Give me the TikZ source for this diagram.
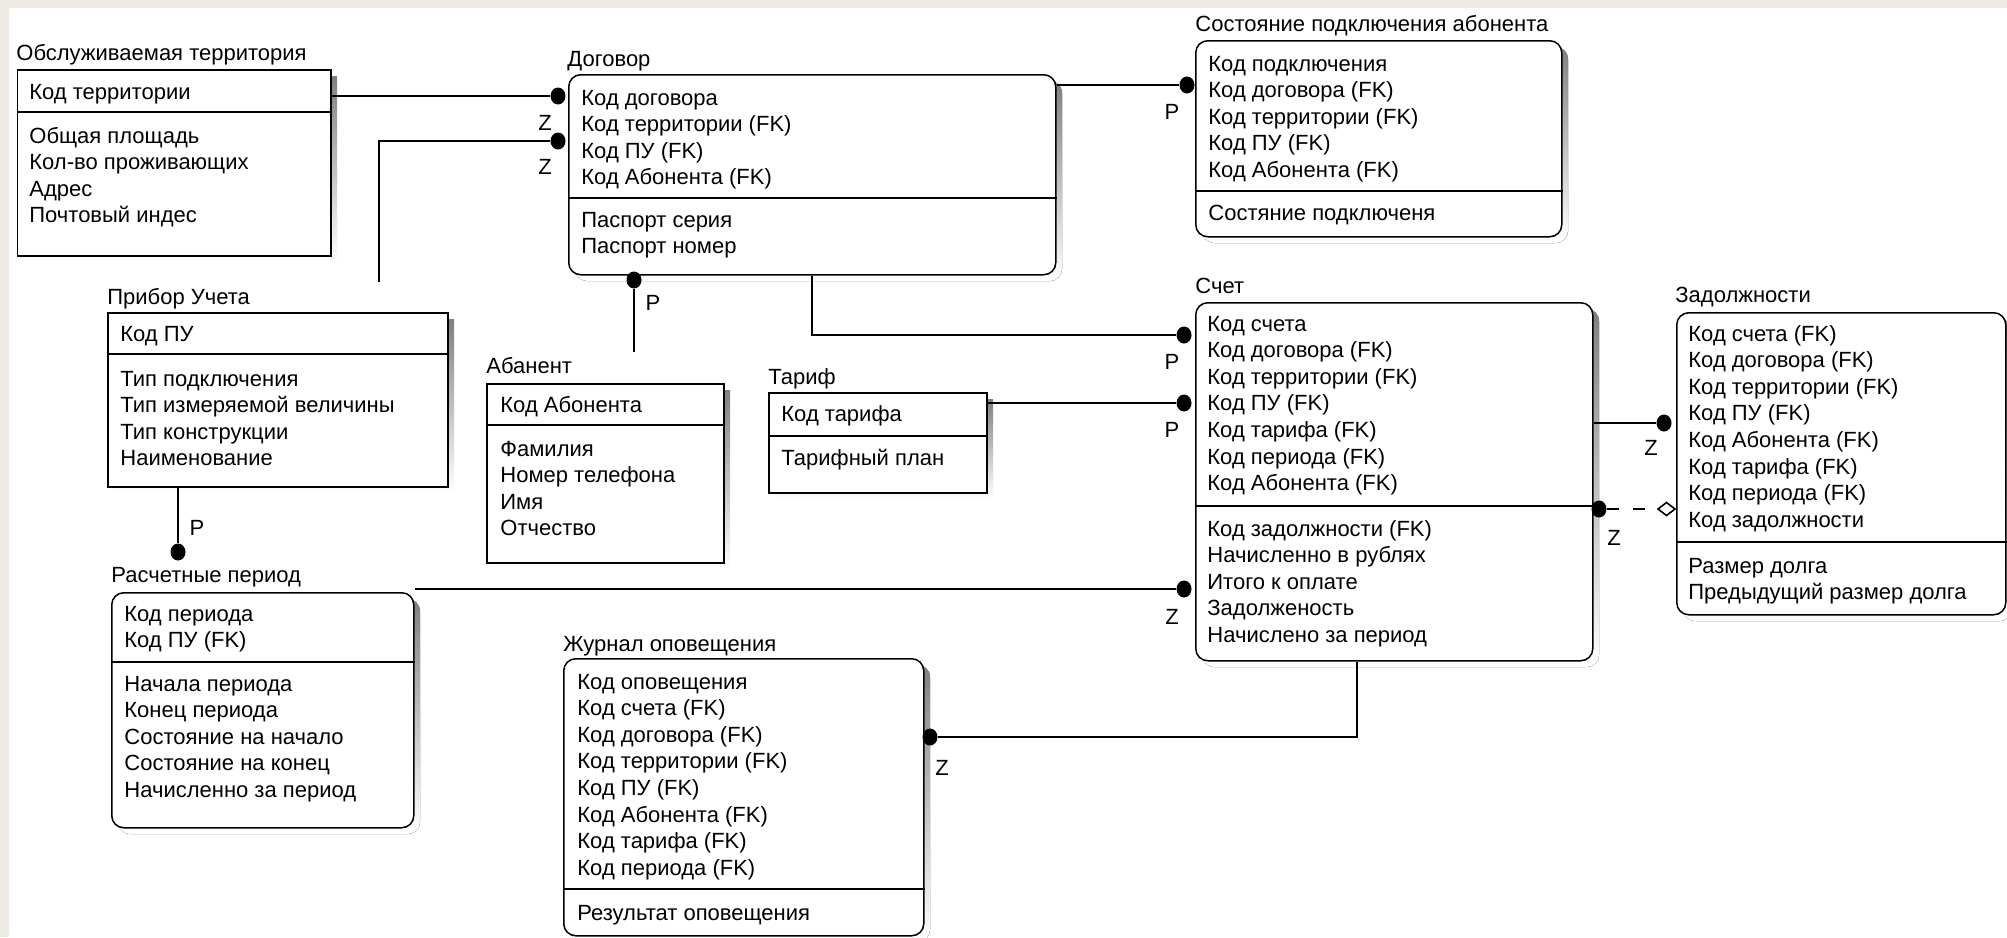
\documentclass[tikz,border=0pt]{standalone}
\usepackage{fontspec}
\setmainfont{Liberation Sans}
\usetikzlibrary{shapes.geometric}
\definecolor{beige}{HTML}{EEEBE4}
\definecolor{shade}{HTML}{6E6E6E}
\tikzset{
  ent/.style={draw=black, line width=0.75pt, fill=white, inner sep=0pt, anchor=north west},
  divline/.style={line width=0.75pt},
  ttl/.style={anchor=base west, inner sep=0pt, font=\fontsize{11}{13}\selectfont},
  attr/.style={anchor=base west, inner sep=0pt, font=\fontsize{11}{13}\selectfont},
  lbl/.style={inner sep=0pt, font=\fontsize{11}{13}\selectfont},
  rel/.style={line width=0.8pt},
  dot/.style={ellipse, fill=black, minimum width=7.5pt, minimum height=8.5pt, inner sep=0pt},
}
\newcommand{\mkent}[6]{%
  \fill[shade,#2] (#3+7,#4+7) rectangle (#5+7,#6+7);
  \node[ent,#2,minimum width={(#5-(#3))*0.5pt},minimum height={(#6-(#4))*0.5pt}] (#1) at (#3,#4) {};
}
\newcommand{\mkdiv}[2]{\draw[divline] (#1.west |- 0,#2) -- (#1.east |- 0,#2);}
\newcommand{\mklines}[4]{%
  \foreach \attrtext [count=\i] in {#4} \node[attr] (#1-\i) at (#2,#3+8+26.6*\i-26.6) {\attrtext};
}
\begin{document}
\begin{tikzpicture}[x=0.5pt,y=-0.5pt]
\fill[white] (0,0) rectangle (2007,937);
\fill[beige] (0,0) rectangle (2007,7.5);
\fill[beige] (0,0) rectangle (8.5,937);
\useasboundingbox (0,0) rectangle (2007,937);

% Обслуживаемая территория
\mkent{obsl}{sharp corners}{16.5}{69}{330}{255}
\mkdiv{obsl}{112}
\node[ttl] (obsl-t) at (16,60) {Обслуживаемая территория};
\mklines{obslk}{29}{91}{Код территории}
\mklines{obsla}{29}{135}{Общая площадь,Кол-во проживающих,Адрес,Почтовый индес}

% Договор
\mkent{dog}{rounded corners=6pt}{568}{74}{1055}{274}
\mkdiv{dog}{198}
\node[ttl] (dog-t) at (567,66) {Договор};
\mklines{dogk}{581}{97}{Код договора,Код территории (FK),Код ПУ (FK),Код Абонента (FK)}
\mklines{doga}{581}{219}{Паспорт серия,Паспорт номер}

% Состояние подключения абонента
\mkent{sost}{rounded corners=6pt}{1195}{40}{1561}{236}
\mkdiv{sost}{191}
\node[ttl] (sost-t) at (1195,32) {Состояние подключения абонента};
\mklines{sostk}{1208}{63}{Код подключения,Код договора (FK),Код территории (FK),Код ПУ (FK),Код Абонента (FK)}
\mklines{sosta}{1208}{212}{Состяние подключеня}

% Прибор Учета
\mkent{pribor}{sharp corners}{107}{312}{447}{486}
\mkdiv{pribor}{354}
\node[ttl] (pribor-t) at (107,304) {Прибор Учета};
\mklines{pribork}{120}{333}{Код ПУ}
\mklines{pribora}{120}{378}{Тип подключения,Тип измеряемой величины,Тип конструкции,Наименование}

% Абанент
\mkent{aban}{sharp corners}{486}{383}{723}{562}
\mkdiv{aban}{425}
\node[ttl] (aban-t) at (486,373) {Абанент};
\mklines{abank}{500}{404}{Код Абонента}
\mklines{abana}{500}{448}{Фамилия,Номер телефона,Имя,Отчество}

% Тариф
\mkent{tarif}{sharp corners}{768}{392}{986}{492}
\mkdiv{tarif}{436}
\node[ttl] (tarif-t) at (768,384) {Тариф};
\mklines{tarifk}{781}{413}{Код тарифа}
\mklines{tarifa}{781}{457}{Тарифный план}

% Счет
\mkent{schet}{rounded corners=6pt}{1195}{302}{1592}{660}
\mkdiv{schet}{506}
\node[ttl] (schet-t) at (1195,293) {Счет};
\mklines{schetk}{1207}{323}{Код счета,Код договора (FK),Код территории (FK),Код ПУ (FK),Код тарифа (FK),Код периода (FK),Код Абонента (FK)}
\mklines{scheta}{1207}{528}{Код задолжности (FK),Начисленно в рублях,Итого к оплате,Задолженость,Начислено за период}

% Задолжности
\mkent{zad}{rounded corners=6pt}{1676}{312}{2005}{614}
\mkdiv{zad}{542}
\node[ttl] (zad-t) at (1675,302) {Задолжности};
\mklines{zadk}{1688}{333}{Код счета (FK),Код договора (FK),Код территории (FK),Код ПУ (FK),Код Абонента (FK),Код тарифа (FK),Код периода (FK),Код задолжности}
\mklines{zada}{1688}{565}{Размер долга,Предыдущий размер долга}

% Расчетные период
\mkent{rasch}{rounded corners=6pt}{111}{592}{413}{827}
\mkdiv{rasch}{662}
\node[ttl] (rasch-t) at (111,582) {Расчетные период};
\mklines{raschk}{124}{613}{Код периода,Код ПУ (FK)}
\mklines{rascha}{124}{683}{Начала периода,Конец периода,Состояние на начало,Состояние на конец,Начисленно за период}

% Журнал оповещения
\mkent{zhur}{rounded corners=6pt}{563}{658}{923}{935}
\mkdiv{zhur}{889}
\node[ttl] (zhur-t) at (563,651) {Журнал оповещения};
\mklines{zhurk}{577}{681}{Код оповещения,Код счета (FK),Код договора (FK),Код территории (FK),Код ПУ (FK),Код Абонента (FK),Код тарифа (FK),Код периода (FK)}
\mklines{zhura}{577}{912}{Результат оповещения}

% dots
\node[dot] (d1) at (558,96) {};
\node[dot] (d2) at (558,141) {};
\node[dot] (d3) at (1187,85) {};
\node[dot] (d4) at (634,280) {};
\node[dot] (d5) at (1184,335) {};
\node[dot] (d6) at (1184,403) {};
\node[dot] (d7) at (1184,589) {};
\node[dot] (d8) at (178,552) {};
\node[dot] (d9) at (1664,423) {};
\node[dot] (d10) at (1599,509) {};
\node[dot] (d11) at (930,737) {};
\coordinate (pfree) at (379,282);
\coordinate (afree) at (634,352);
\coordinate (dm) at (1658,509);

% connectors
\draw[rel] (obsl.east |- d1) -- (d1);
\draw[rel] (pfree) |- (d2);
\draw[rel] (dog.east |- d3) -- (d3);
\draw[rel] (d4) -- (afree);
\draw[rel] (dog.south -| 812,0) |- (d5);
\draw[rel] (tarif.east |- d6) -- (d6);
\draw[rel] (rasch.east |- d7) -- (d7);
\draw[rel] (pribor.south -| d8) -- (d8);
\draw[rel] (schet.east |- d9) -- (d9);
\draw[rel, dash pattern=on 6pt off 7pt] (d10) -- (dm);
\draw[rel, fill=white] (dm) -- ++(8.5,-6.5) -- ++(8.5,6.5) -- ++(-8.5,6.5) -- cycle;
\draw[rel] (schet.south -| 1357,0) |- (d11);

% labels
\node[lbl] (z1) at (545,123) {Z};
\node[lbl] (z2) at (545,167) {Z};
\node[lbl] (p1) at (1172,112) {P};
\node[lbl] (p2) at (653,303) {P};
\node[lbl] (p3) at (1172,362) {P};
\node[lbl] (p4) at (1172,430) {P};
\node[lbl] (z3) at (1172,617) {Z};
\node[lbl] (p5) at (197,528) {P};
\node[lbl] (z4) at (1651,448) {Z};
\node[lbl] (z5) at (1614,538) {Z};
\node[lbl] (z6) at (942,768) {Z};
\end{tikzpicture}
\end{document}
